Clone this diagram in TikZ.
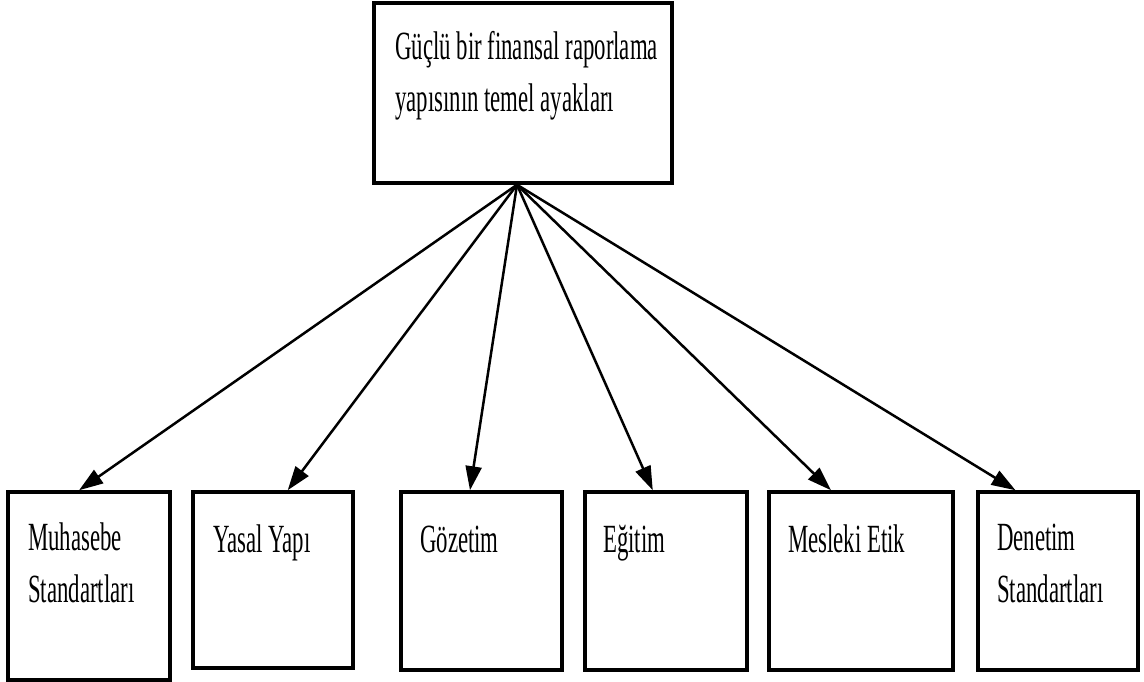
\documentclass[tikz,border=0pt]{standalone}
\usepackage{fontspec}
\setmainfont{Liberation Serif}
\usepackage{graphicx}
\usetikzlibrary{arrows.meta,calc,positioning}

\newcommand{\sqtext}[1]{\scalebox{0.57}[1]{\begin{tabular}[t]{@{}l@{}}#1\end{tabular}}}

\tikzset{
  box/.style={draw, line width=3.5pt, inner sep=0pt},
  lbl/.style={anchor=base west, inner sep=0pt, font=\fontsize{40}{52}\selectfont},
  pillar/.style={line width=2.5pt, -{Triangle[length=24pt,width=16pt]}}
}

\begin{document}
\begin{tikzpicture}[x=1pt,y=1pt,yscale=-1,xscale=1]
\useasboundingbox (0,0) rectangle (1144,682);

%Top box
\node[box, minimum width=298, minimum height=180] (top) at (523,93) {};
\node[lbl] (top-t) at (395,60) {\sqtext{Güçlü bir finansal raporlama\\yapısının temel ayakları}};
\coordinate (hub) at ([xshift=-6]top.south);

%Bottom boxes
\node[box, minimum width=162, minimum height=188] (muh) at (89,586) {};
\node[box, minimum width=160, minimum height=176] (yas) at (273,580) {};
\node[box, minimum width=161, minimum height=178] (goz) at (481.5,581) {};
\node[box, minimum width=162, minimum height=178] (egi) at (666,581) {};
\node[box, minimum width=184, minimum height=178] (mes) at (861,581) {};
\node[box, minimum width=160, minimum height=178] (den) at (1058,581) {};

%Labels
\node[lbl] (muh-t) at (28,550) {\sqtext{Muhasebe\\Standartları}};
\node[lbl] (yas-t) at (213,552) {\sqtext{Yasal Yapı}};
\node[lbl] (goz-t) at (420,552) {\sqtext{Gözetim}};
\node[lbl] (egi-t) at (603,552) {\sqtext{Eğitim}};
\node[lbl] (mes-t) at (788,552) {\sqtext{Mesleki Etik}};
\node[lbl] (den-t) at (997,550) {\sqtext{Denetim\\Standartları}};

%Arrows
\draw[pillar] (hub) -- ($(muh.north west)!0.44!(muh.north east)$);
\draw[pillar] (hub) -- ($(yas.north west)!0.59!(yas.north east)$);
\draw[pillar] (hub) -- ($(goz.north west)!0.43!(goz.north east)$);
\draw[pillar] (hub) -- ($(egi.north west)!0.42!(egi.north east)$);
\draw[pillar] (hub) -- ($(mes.north west)!0.34!(mes.north east)$);
\draw[pillar] (hub) -- ($(den.north west)!0.24!(den.north east)$);

\end{tikzpicture}
\end{document}
